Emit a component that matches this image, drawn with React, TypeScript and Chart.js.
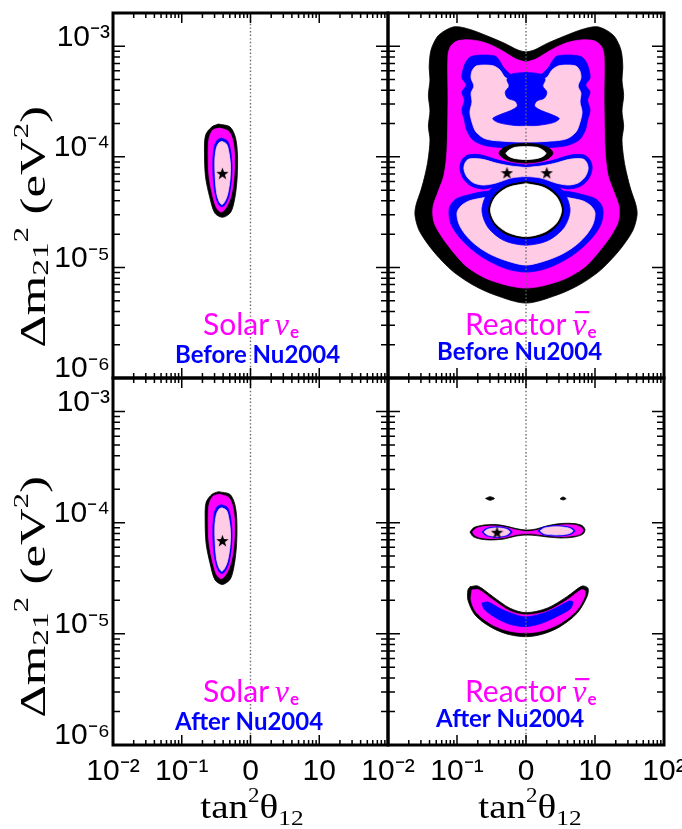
import React, { useEffect, useRef } from 'react';
import { Chart, registerables } from 'chart.js';

Chart.register(...registerables);

// ---------- axes ----------
const tanRange = [0.01, 100];
const dmRange = [1e-6, 2e-3];
const tanTicks = [0.01, 0.1, 1, 10, 100];
const tanTickLabelsLeft = ['10⁻²', '10⁻¹', '0', '10', ''];
const tanTickLabelsRight = ['10⁻²', '10⁻¹', '0', '10', '10²'];
const dmTicks = [1e-6, 1e-5, 1e-4, 1e-3];
const dmTickLabels = ['10⁻⁶', '10⁻⁵', '10⁻⁴', '10⁻³'];
const maximalMixing = 1;

// ---------- texts ----------
const solarLabel = 'Solar';
const reactorLabel = 'Reactor';
const beforeLabel = 'Before Nu2004';
const afterLabel = 'After Nu2004';

// ---------- colours ----------
const BLACK = '#000000';
const MAGENTA = '#ff00ff';
const BLUE = '#0000ff';
const PINK = '#ffcbe5';
const WHITE = '#ffffff';

// ---------- Solar, before Nu2004 : [tan2theta, dm2] ----------
const solarBeforeBlack = [[0.341,1.98e-4],[0.5,1.87e-4],[0.6,1.52e-4],[0.645,1.08e-4],[0.64,6.56e-5],[0.595,4.33e-5],[0.515,3.15e-5],[0.39,2.84e-5],[0.303,3.1e-5],[0.255,4.33e-5],[0.222,6.56e-5],[0.214,1.08e-4],[0.222,1.57e-4],[0.275,1.87e-4]];
const solarBeforeMagenta = [[0.353,1.82e-4],[0.477,1.71e-4],[0.55,1.42e-4],[0.585,1.04e-4],[0.575,6.56e-5],[0.525,4.52e-5],[0.447,3.52e-5],[0.377,3.17e-5],[0.322,3.44e-5],[0.28,4.52e-5],[0.25,6.56e-5],[0.242,1.04e-4],[0.25,1.48e-4],[0.285,1.75e-4]];
const solarBeforeBlue = [[0.377,1.48e-4],[0.462,1.39e-4],[0.511,1.15e-4],[0.537,8.43e-5],[0.528,6.17e-5],[0.485,4.42e-5],[0.432,3.74e-5],[0.384,3.52e-5],[0.341,3.74e-5],[0.308,4.52e-5],[0.288,6.17e-5],[0.284,9.35e-5],[0.298,1.25e-4],[0.33,1.42e-4]];
const solarBeforePink = [[0.384,1.38e-4],[0.447,1.31e-4],[0.485,1.1e-4],[0.511,8.43e-5],[0.502,6.17e-5],[0.462,4.52e-5],[0.417,3.9e-5],[0.384,3.7e-5],[0.353,3.9e-5],[0.324,4.61e-5],[0.308,6.17e-5],[0.303,9.35e-5],[0.319,1.2e-4],[0.347,1.34e-4]];
const solarBeforeBest = [[0.39, 7.1e-5]];

// ---------- Solar, after Nu2004 ----------
const solarAfterBlack = [[0.341,1.9e-4],[0.5,1.8e-4],[0.59,1.47e-4],[0.632,1.06e-4],[0.628,6.5e-5],[0.585,4.3e-5],[0.51,3.12e-5],[0.39,2.78e-5],[0.305,3.05e-5],[0.258,4.3e-5],[0.226,6.5e-5],[0.219,1.06e-4],[0.226,1.52e-4],[0.276,1.8e-4]];
const solarAfterMagenta = [[0.353,1.8e-4],[0.477,1.69e-4],[0.55,1.4e-4],[0.585,1.03e-4],[0.575,6.5e-5],[0.525,4.48e-5],[0.447,3.48e-5],[0.377,3.13e-5],[0.322,3.4e-5],[0.28,4.48e-5],[0.25,6.5e-5],[0.242,1.03e-4],[0.25,1.46e-4],[0.285,1.73e-4]];
const solarAfterBlue = [[0.377,1.45e-4],[0.462,1.37e-4],[0.511,1.13e-4],[0.537,8.3e-5],[0.528,6.1e-5],[0.485,4.38e-5],[0.432,3.7e-5],[0.384,3.48e-5],[0.341,3.7e-5],[0.308,4.48e-5],[0.288,6.1e-5],[0.284,9.2e-5],[0.298,1.23e-4],[0.33,1.4e-4]];
const solarAfterPink = [[0.384,1.36e-4],[0.447,1.29e-4],[0.485,1.08e-4],[0.511,8.3e-5],[0.502,6.1e-5],[0.462,4.48e-5],[0.417,3.86e-5],[0.384,3.66e-5],[0.353,3.86e-5],[0.324,4.56e-5],[0.308,6.1e-5],[0.303,9.2e-5],[0.319,1.18e-4],[0.347,1.32e-4]];
const solarAfterBest = [[0.39, 6.9e-5]];

// ---------- Reactor, before Nu2004 ----------
const reactorBeforeBlack = [[1,8.86e-4],[0.766,9.24e-4],[0.48,1.07e-3],[0.201,1.34e-3],[0.126,1.47e-3],[0.0905,1.5e-3],[0.0648,1.37e-3],[0.0513,1.21e-3],[0.042,9.24e-4],[0.0395,6.5e-4],[0.0406,4.95e-4],[0.0385,3.6e-4],[0.0406,2.6e-4],[0.0385,1.9e-4],[0.0406,1.42e-4],[0.038,9.35e-5],[0.0344,6.84e-5],[0.0301,5.01e-5],[0.0255,3.67e-5],[0.0246,2.98e-5],[0.0281,2.18e-5],[0.0406,1.53e-5],[0.0627,1.12e-5],[0.0935,8.9e-6],[0.171,6.93e-6],[0.356,5.63e-6],[1,4.76e-6],[2.81,5.63e-6],[5.85,6.93e-6],[10.7,8.9e-6],[15.9,1.12e-5],[24.6,1.53e-5],[35.6,2.18e-5],[40.7,2.98e-5],[39.2,3.67e-5],[33.2,5.01e-5],[29.1,6.84e-5],[26.3,9.35e-5],[24.6,1.42e-4],[26.0,1.9e-4],[24.6,2.6e-4],[26.0,3.6e-4],[24.6,4.95e-4],[25.3,6.5e-4],[23.8,9.24e-4],[19.5,1.21e-3],[15.4,1.37e-3],[11.0,1.5e-3],[7.94,1.47e-3],[4.98,1.34e-3],[2.08,1.07e-3],[1.31,9.24e-4]];
const reactorBeforeMagenta = [[1,7.19e-4],[0.717,7.66e-4],[0.434,9.24e-4],[0.263,1.07e-3],[0.16,1.14e-3],[0.103,1.12e-3],[0.0818,1.01e-3],[0.0741,8.32e-4],[0.0741,3.26e-4],[0.0716,1.15e-4],[0.0648,6.84e-5],[0.0531,4.81e-5],[0.0449,3.52e-5],[0.0464,2.57e-5],[0.0606,1.88e-5],[0.0905,1.35e-5],[0.14,1.01e-5],[0.301,7.69e-6],[1,6.51e-6],[3.32,7.69e-6],[7.14,1.01e-5],[11.0,1.35e-5],[16.5,1.88e-5],[21.6,2.57e-5],[22.3,3.52e-5],[18.8,4.81e-5],[15.4,6.84e-5],[14.0,1.15e-4],[13.5,3.26e-4],[13.5,8.32e-4],[12.2,1.01e-3],[9.71,1.12e-3],[6.25,1.14e-3],[3.8,1.07e-3],[2.3,9.24e-4],[1.39,7.66e-4]];
const reactorBeforeBlueUpper = [[1,5.38e-4],[0.627,5.49e-4],[0.48,6.35e-4],[0.406,7.5e-4],[0.356,8.15e-4],[0.223,8.32e-4],[0.155,7.98e-4],[0.132,7.05e-4],[0.122,6.09e-4],[0.118,5.16e-4],[0.136,4.46e-4],[0.118,3.86e-4],[0.128,3.26e-4],[0.118,2.65e-4],[0.128,2.15e-4],[0.138,1.75e-4],[0.17,1.42e-4],[0.263,1.26e-4],[0.513,1.21e-4],[1,1.21e-4],[1.95,1.21e-4],[3.8,1.26e-4],[5.88,1.42e-4],[7.25,1.75e-4],[7.81,2.15e-4],[8.47,2.65e-4],[7.81,3.26e-4],[8.47,3.86e-4],[7.35,4.46e-4],[8.47,5.16e-4],[8.2,6.09e-4],[7.58,7.05e-4],[6.45,7.98e-4],[4.49,8.32e-4],[2.81,8.15e-4],[2.46,7.5e-4],[2.08,6.35e-4],[1.59,5.49e-4]];
const reactorBeforePinkUpper = [[1,4.75e-4],[0.513,5.16e-4],[0.42,6.09e-4],[0.344,6.62e-4],[0.263,6.76e-4],[0.189,6.62e-4],[0.165,5.96e-4],[0.16,5.16e-4],[0.176,4.37e-4],[0.16,3.78e-4],[0.165,3.13e-4],[0.154,2.54e-4],[0.165,2.06e-4],[0.189,1.68e-4],[0.263,1.45e-4],[0.513,1.38e-4],[1,1.36e-4],[1.95,1.38e-4],[3.8,1.45e-4],[5.3,1.68e-4],[6.06,2.06e-4],[6.49,2.54e-4],[6.06,3.13e-4],[6.25,3.78e-4],[5.68,4.37e-4],[6.25,5.16e-4],[6.06,5.96e-4],[5.3,6.62e-4],[3.8,6.76e-4],[2.91,6.62e-4],[2.38,6.09e-4],[1.95,5.16e-4]];
const reactorBeforeBlueCore = [[1,5.8e-4],[0.62,5.6e-4],[0.53,5.0e-4],[0.57,4.37e-4],[0.5,3.86e-4],[0.54,3.4e-4],[0.7,3.19e-4],[0.75,2.88e-4],[0.6,2.62e-4],[0.45,2.45e-4],[0.33,2.22e-4],[0.4,2.04e-4],[0.7,1.92e-4],[1,1.92e-4],[1.43,1.92e-4],[2.5,2.04e-4],[3.03,2.22e-4],[2.22,2.45e-4],[1.67,2.62e-4],[1.33,2.88e-4],[1.43,3.19e-4],[1.85,3.4e-4],[2.0,3.86e-4],[1.75,4.37e-4],[1.89,5.0e-4],[1.61,5.6e-4]];
const reactorBeforeBlueLower = [[1,5.45e-5],[0.368,5.01e-5],[0.223,4.81e-5],[0.144,4.52e-5],[0.0968,4.16e-5],[0.0792,3.59e-5],[0.0766,3.04e-5],[0.0818,2.47e-5],[0.1,2.0e-5],[0.144,1.56e-5],[0.223,1.26e-5],[0.38,1.05e-5],[0.607,9.47e-6],[1,9.08e-6],[1.65,9.47e-6],[2.63,1.05e-5],[4.49,1.26e-5],[6.94,1.56e-5],[10.0,2.0e-5],[12.2,2.47e-5],[13.1,3.04e-5],[12.6,3.59e-5],[10.3,4.16e-5],[6.94,4.52e-5],[4.49,4.81e-5],[2.72,5.01e-5]];
const reactorBeforePinkLower = [[1,5.01e-5],[0.23,4.24e-5],[0.149,3.99e-5],[0.114,3.59e-5],[0.1,3.11e-5],[0.107,2.47e-5],[0.131,2.0e-5],[0.182,1.62e-5],[0.281,1.35e-5],[0.48,1.17e-5],[1,1.05e-5],[2.08,1.17e-5],[3.56,1.35e-5],[5.49,1.62e-5],[7.63,2.0e-5],[9.35,2.47e-5],[10.0,3.11e-5],[8.77,3.59e-5],[6.71,3.99e-5],[4.35,4.24e-5]];
const reactorBeforeBlueRim = [[1,6.84e-5],[0.48,6.23e-5],[0.281,4.77e-5],[0.23,3.3e-5],[0.281,2.3e-5],[0.48,1.75e-5],[1,1.59e-5],[2.08,1.75e-5],[3.56,2.3e-5],[4.35,3.3e-5],[3.56,4.77e-5],[2.08,6.23e-5]];
const reactorBeforeLowerHoleEdge = [[1,5.98e-5],[0.53,5.5e-5],[0.344,4.47e-5],[0.286,3.3e-5],[0.344,2.45e-5],[0.53,1.98e-5],[1,1.83e-5],[1.89,1.98e-5],[2.91,2.45e-5],[3.5,3.3e-5],[2.91,4.47e-5],[1.89,5.5e-5]];
const reactorBeforeLowerHole = [[1,5.73e-5],[0.548,5.28e-5],[0.361,4.34e-5],[0.306,3.3e-5],[0.361,2.52e-5],[0.548,2.07e-5],[1,1.9e-5],[1.82,2.07e-5],[2.77,2.52e-5],[3.27,3.3e-5],[2.77,4.34e-5],[1.82,5.28e-5]];
const reactorBeforeBlueMiddle = [[1,8.43e-5],[0.607,8.79e-5],[0.393,9.35e-5],[0.223,1.04e-4],[0.144,1.04e-4],[0.118,9.35e-5],[0.11,7.92e-5],[0.122,6.43e-5],[0.16,5.45e-5],[0.246,5.12e-5],[0.368,5.45e-5],[0.607,6.04e-5],[1,6.3e-5],[1.65,6.04e-5],[2.72,5.45e-5],[4.07,5.12e-5],[6.25,5.45e-5],[8.2,6.43e-5],[9.09,7.92e-5],[8.47,9.35e-5],[6.94,1.04e-4],[4.49,1.04e-4],[2.54,9.35e-5],[1.65,8.79e-5]];
const reactorBeforePinkMiddle = [[1,8.0e-5],[0.607,8.26e-5],[0.393,8.7e-5],[0.223,9.55e-5],[0.149,9.55e-5],[0.131,8.79e-5],[0.126,7.76e-5],[0.14,6.56e-5],[0.176,5.8e-5],[0.246,5.56e-5],[0.368,5.8e-5],[0.607,6.43e-5],[1,6.63e-5],[1.65,6.43e-5],[2.72,5.8e-5],[4.07,5.56e-5],[5.68,5.8e-5],[7.14,6.56e-5],[7.94,7.76e-5],[7.63,8.79e-5],[6.71,9.55e-5],[4.49,9.55e-5],[2.54,8.7e-5],[1.65,8.26e-5]];
const reactorBeforeUpperHoleEdge = [[1,1.33e-4],[0.627,1.29e-4],[0.464,1.2e-4],[0.406,1.08e-4],[0.464,9.77e-5],[0.627,9.06e-5],[1,8.79e-5],[1.59,9.06e-5],[2.16,9.77e-5],[2.46,1.08e-4],[2.16,1.2e-4],[1.59,1.29e-4]];
const reactorBeforeUpperHole = [[1,1.24e-4],[0.693,1.22e-4],[0.567,1.15e-4],[0.513,1.08e-4],[0.567,1.01e-4],[0.693,9.66e-5],[1,9.45e-5],[1.44,9.66e-5],[1.76,1.01e-4],[1.95,1.08e-4],[1.76,1.15e-4],[1.44,1.22e-4]];
const reactorBeforeBest = [[0.53, 7.2e-5], [2.0, 7.2e-5]];

// ---------- Reactor, after Nu2004 ----------
const reactorAfterIslandLeft = [[0.259,1.65e-4],[0.301,1.71e-4],[0.349,1.65e-4],[0.301,1.59e-4]];
const reactorAfterIslandRight = [[3.11,1.64e-4],[3.44,1.7e-4],[3.8,1.64e-4],[3.44,1.6e-4]];
const reactorAfterBandBlack = [[0.154,8.23e-5],[0.176,9.03e-5],[0.246,9.51e-5],[0.368,9.61e-5],[0.513,9.31e-5],[0.717,8.85e-5],[1,8.58e-5],[1.4,8.76e-5],[2.08,9.41e-5],[3.21,9.82e-5],[4.96,9.82e-5],[6.49,9.41e-5],[7.16,8.67e-5],[6.7,7.89e-5],[4.96,7.42e-5],[3.21,7.28e-5],[2.08,7.42e-5],[1.4,7.65e-5],[1,7.73e-5],[0.717,7.57e-5],[0.48,7.13e-5],[0.311,6.98e-5],[0.216,7.13e-5],[0.171,7.5e-5]];
const reactorAfterBandMagenta = [[0.168,8.23e-5],[0.189,8.85e-5],[0.246,9.22e-5],[0.368,9.31e-5],[0.513,9.03e-5],[0.717,8.58e-5],[1,8.32e-5],[1.4,8.49e-5],[2.08,9.12e-5],[3.21,9.51e-5],[4.96,9.51e-5],[6.17,9.12e-5],[6.7,8.58e-5],[6.27,7.97e-5],[4.96,7.65e-5],[3.21,7.5e-5],[2.08,7.65e-5],[1.4,7.89e-5],[1,7.97e-5],[0.717,7.81e-5],[0.48,7.35e-5],[0.311,7.2e-5],[0.216,7.35e-5],[0.179,7.73e-5]];
const reactorAfterLobeLeftBlue = [[0.23,8.23e-5],[0.263,8.85e-5],[0.38,9.19e-5],[0.548,8.85e-5],[0.627,8.23e-5],[0.548,7.65e-5],[0.38,7.37e-5],[0.263,7.65e-5]];
const reactorAfterLobeLeftPink = [[0.246,8.23e-5],[0.277,8.72e-5],[0.38,8.97e-5],[0.521,8.72e-5],[0.586,8.23e-5],[0.521,7.76e-5],[0.38,7.54e-5],[0.277,7.76e-5]];
const reactorAfterLobeRightBlue = [[1.49,8.44e-5],[1.76,9.1e-5],[2.77,9.39e-5],[4.35,9.1e-5],[5.13,8.44e-5],[4.35,7.81e-5],[2.77,7.57e-5],[1.76,7.81e-5]];
const reactorAfterLobeRightPink = [[1.6,8.44e-5],[1.85,8.95e-5],[2.77,9.19e-5],[4.13,8.95e-5],[4.8,8.44e-5],[4.13,7.94e-5],[2.77,7.75e-5],[1.85,7.94e-5]];
const reactorAfterArcBlack = [[0.154,2.65e-5],[0.201,2.69e-5],[0.332,2.16e-5],[0.586,1.7e-5],[1,1.55e-5],[2.02,1.7e-5],[3.93,2.16e-5],[6.49,2.69e-5],[7.92,2.57e-5],[7.66,2.16e-5],[5.49,1.53e-5],[3.11,1.16e-5],[1.76,9.96e-6],[1,9.42e-6],[0.53,9.96e-6],[0.301,1.16e-5],[0.182,1.48e-5],[0.144,2.01e-5],[0.144,2.48e-5]];
const reactorAfterArcMagenta = [[0.165,2.48e-5],[0.208,2.48e-5],[0.332,2.01e-5],[0.586,1.6e-5],[1,1.48e-5],[2.02,1.6e-5],[3.93,2.01e-5],[6.27,2.48e-5],[7.16,2.43e-5],[6.94,2.1e-5],[5.3,1.6e-5],[3.11,1.24e-5],[1.76,1.07e-5],[1,1.02e-5],[0.53,1.07e-5],[0.301,1.24e-5],[0.189,1.57e-5],[0.16,2.01e-5]];
const reactorAfterArcBlue = [[0.23,1.89e-5],[0.281,1.93e-5],[0.434,1.67e-5],[0.717,1.48e-5],[1,1.42e-5],[1.65,1.51e-5],[2.72,1.71e-5],[4.2,1.97e-5],[4.8,1.93e-5],[4.35,1.67e-5],[2.72,1.42e-5],[1.65,1.24e-5],[1,1.16e-5],[0.607,1.21e-5],[0.368,1.39e-5],[0.246,1.67e-5]];
const reactorAfterBest = [[0.38, 8.2e-5]];

// ---------- panel setup (positions and styles only) ----------
const FIG_W = 682;
const FIG_H = 829;
const COL_X = [113, 388, 664];
const ROW_Y = [13, 378, 745];
const TICK_FONT = '"Liberation Sans", Arial, sans-serif';
const SERIF = '"Liberation Serif", "Times New Roman", serif';
const LABEL_FONT = 'Lato, "Noto Sans", sans-serif';

const panels = [
  {
    key: 'tl', col: 0, row: 0, yAxis: true, xAxis: false, xLabels: tanTickLabelsLeft,
    source: solarLabel, bar: false, era: beforeLabel, t1: [90, 322], t2: [62, 350], yTitleY: 227,
    best: solarBeforeBest,
    layers: [[solarBeforeBlack, BLACK], [solarBeforeMagenta, MAGENTA], [solarBeforeBlue, BLUE], [solarBeforePink, PINK]],
  },
  {
    key: 'tr', col: 1, row: 0, yAxis: false, xAxis: false, xLabels: tanTickLabelsRight,
    source: reactorLabel, bar: true, era: beforeLabel, t1: [77, 322], t2: [49, 347],
    best: reactorBeforeBest,
    layers: [
      [reactorBeforeBlack, BLACK], [reactorBeforeMagenta, MAGENTA], [reactorBeforeBlueUpper, BLUE],
      [reactorBeforePinkUpper, PINK], [reactorBeforeBlueCore, BLUE], [reactorBeforeBlueLower, BLUE],
      [reactorBeforePinkLower, PINK], [reactorBeforeBlueRim, BLUE], [reactorBeforeLowerHoleEdge, BLACK],
      [reactorBeforeLowerHole, WHITE], [reactorBeforeBlueMiddle, BLUE], [reactorBeforePinkMiddle, PINK],
      [reactorBeforeUpperHoleEdge, BLACK], [reactorBeforeUpperHole, WHITE],
    ],
  },
  {
    key: 'bl', col: 0, row: 1, yAxis: true, xAxis: true, xLabels: tanTickLabelsLeft,
    source: solarLabel, bar: false, era: afterLabel, t1: [90, 324], t2: [62, 352], yTitleY: 597, xTitleX: 252,
    best: solarAfterBest,
    layers: [[solarAfterBlack, BLACK], [solarAfterMagenta, MAGENTA], [solarAfterBlue, BLUE], [solarAfterPink, PINK]],
  },
  {
    key: 'br', col: 1, row: 1, yAxis: false, xAxis: true, xLabels: tanTickLabelsRight,
    source: reactorLabel, bar: true, era: afterLabel, t1: [77, 324], t2: [48, 349], xTitleX: 530,
    best: reactorAfterBest,
    layers: [
      [reactorAfterIslandLeft, BLACK], [reactorAfterIslandRight, BLACK],
      [reactorAfterBandBlack, BLACK], [reactorAfterBandMagenta, MAGENTA],
      [reactorAfterLobeLeftBlue, BLUE], [reactorAfterLobeLeftPink, PINK],
      [reactorAfterLobeRightBlue, BLUE], [reactorAfterLobeRightPink, PINK],
      [reactorAfterArcBlack, BLACK], [reactorAfterArcMagenta, MAGENTA], [reactorAfterArcBlue, BLUE],
    ],
  },
];

function minorTicks(majors: number[], top: number) {
  const out: number[] = [];
  for (const d of majors) for (let k = 2; k <= 9; k++) if (d * k < top) out.push(d * k);
  return out;
}
const tanMinor = minorTicks(tanTicks.slice(0, 4), tanRange[1]);
const dmMinor = minorTicks(dmTicks, dmRange[1]);

function makeStar(size: number) {
  const c = document.createElement('canvas');
  c.width = size; c.height = size;
  const g = c.getContext('2d')!;
  g.fillStyle = '#000';
  g.beginPath();
  for (let i = 0; i < 10; i++) {
    const r = i % 2 === 0 ? size / 2 : size * 0.2;
    const a = -Math.PI / 2 + (i * Math.PI) / 5;
    const x = size / 2 + r * Math.cos(a);
    const y = size / 2 + r * Math.sin(a) + size * 0.05;
    if (i === 0) g.moveTo(x, y); else g.lineTo(x, y);
  }
  g.closePath();
  g.fill();
  return c;
}

function drawPieces(ctx: CanvasRenderingContext2D, pieces: any[], sx: number) {
  let total = 0;
  for (const p of pieces) { ctx.font = `${p.s}px ${SERIF}`; p.w = ctx.measureText(p.t).width; total += p.w; }
  ctx.scale(sx, 1);
  let x = -total / 2;
  for (const p of pieces) { ctx.font = `${p.s}px ${SERIF}`; ctx.fillText(p.t, x, p.dy); x += p.w; }
}

function decor(p: any) {
  return {
    id: 'panelDecor',
    afterDraw(chart: any) {
      const { ctx, chartArea: a } = chart;
      const xs = chart.scales.x;
      const ys = chart.scales.y;
      ctx.save();
      // inward tick marks
      ctx.strokeStyle = '#000';
      ctx.lineWidth = 1.5;
      ctx.beginPath();
      const xt = (v: number, len: number) => {
        const px = xs.getPixelForValue(v);
        ctx.moveTo(px, a.bottom); ctx.lineTo(px, a.bottom - len);
        ctx.moveTo(px, a.top); ctx.lineTo(px, a.top + len);
      };
      const yt = (v: number, len: number) => {
        const py = ys.getPixelForValue(v);
        ctx.moveTo(a.left, py); ctx.lineTo(a.left + len, py);
        ctx.moveTo(a.right, py); ctx.lineTo(a.right - len, py);
      };
      tanTicks.forEach((v) => xt(v, 10));
      tanMinor.forEach((v) => xt(v, 5));
      dmTicks.forEach((v) => yt(v, 12));
      dmMinor.forEach((v) => yt(v, 7));
      ctx.stroke();
      ctx.lineWidth = 3;
      ctx.strokeRect(a.left, a.top, a.right - a.left, a.bottom - a.top);

      // panel labels
      ctx.textAlign = 'left';
      ctx.textBaseline = 'alphabetic';
      let x = a.left + p.t1[0];
      const y = a.top + p.t1[1];
      ctx.fillStyle = MAGENTA;
      ctx.font = `30px ${LABEL_FONT}`;
      const word = p.source + ' ';
      ctx.fillText(word, x, y);
      x += ctx.measureText(word).width - 2;
      ctx.font = `italic 32px ${SERIF}`;
      ctx.fillText('ν', x, y);
      const wn = ctx.measureText('ν').width;
      if (p.bar) ctx.fillRect(x + 3, y - 24, wn, 2.2);
      x += wn + 1;
      ctx.font = `bold 17px ${LABEL_FONT}`;
      ctx.fillText('e', x, y + 3);
      ctx.fillStyle = BLUE;
      ctx.font = `bold 24px ${LABEL_FONT}`;
      ctx.fillText(p.era, a.left + p.t2[0], a.top + p.t2[1]);

      // axis titles
      ctx.fillStyle = '#000';
      if (p.yAxis) {
        ctx.save();
        ctx.translate(45, p.yTitleY);
        ctx.rotate(-Math.PI / 2);
        drawPieces(ctx, [
          { t: 'Δm', s: 35, dy: 0 }, { t: '21', s: 23, dy: 3 }, { t: '2', s: 21, dy: -17 },
          { t: ' (eV', s: 35, dy: 0 }, { t: '2', s: 21, dy: -17 }, { t: ')', s: 35, dy: 0 },
        ], 1.45);
        ctx.restore();
      }
      if (p.xAxis) {
        ctx.save();
        ctx.translate(p.xTitleX, 818);
        drawPieces(ctx, [
          { t: 'tan', s: 34, dy: 0 }, { t: '2', s: 20, dy: -16 }, { t: 'θ', s: 34, dy: 0 }, { t: '12', s: 22, dy: 7 },
        ], 1.15);
        ctx.restore();
      }
      ctx.restore();
    },
  };
}

function buildChart(canvas: HTMLCanvasElement, p: any, star: HTMLCanvasElement) {
  const n = p.layers.length;
  const datasets: any[] = p.layers.map(([pts, color]: any, i: number) => {
    const data = pts.map(([x, y]: number[]) => ({ x, y }));
    data.push({ x: pts[0][0], y: pts[0][1] });
    return {
      type: 'line', data, indexAxis: 'y', fill: 'shape',
      backgroundColor: color, borderColor: color, borderWidth: 0.8,
      pointRadius: 0, pointHoverRadius: 0, tension: 0.3, order: 100 + n - i,
    };
  });
  datasets.push({
    type: 'line',
    data: [{ x: maximalMixing, y: dmRange[0] }, { x: maximalMixing, y: dmRange[1] }],
    borderColor: '#6a6a6a', borderWidth: 1.4, borderDash: [1.4, 2.2],
    pointRadius: 0, fill: false, order: 2,
  });
  datasets.push({
    type: 'scatter', data: p.best.map(([x, y]: number[]) => ({ x, y })),
    pointStyle: star, pointRadius: 6, order: 1,
  });

  const left = COL_X[p.col];
  const right = COL_X[p.col + 1];
  const top = ROW_Y[p.row];
  const bottom = ROW_Y[p.row + 1];
  const padding = {
    left: p.yAxis ? 0 : left,
    right: FIG_W - right,
    top,
    bottom: p.xAxis ? 0 : FIG_H - bottom,
  };

  return new Chart(canvas, {
    type: 'line',
    data: { datasets },
    options: {
      responsive: false,
      animation: false,
      events: [],
      layout: { padding },
      plugins: { legend: { display: false }, tooltip: { enabled: false } },
      scales: {
        x: {
          type: 'logarithmic', position: 'bottom', min: tanRange[0], max: tanRange[1],
          display: p.xAxis,
          grid: { display: false, drawTicks: false },
          border: { display: false },
          ticks: {
            autoSkip: false, maxRotation: 0, minRotation: 0, padding: 9, color: '#000',
            font: { family: TICK_FONT, size: 30 },
            callback: (_v: any, i: number) => p.xLabels[i],
          },
          afterBuildTicks: (s: any) => { s.ticks = tanTicks.map((v) => ({ value: v })); },
          afterFit: (s: any) => {
            if (p.xAxis) { s.height = FIG_H - bottom; }
            s.paddingLeft = 0; s.paddingRight = 0; s.paddingTop = 0; s.paddingBottom = 0;
          },
        },
        y: {
          type: 'logarithmic', position: 'left', min: dmRange[0], max: dmRange[1],
          display: p.yAxis,
          grid: { display: false, drawTicks: false },
          border: { display: false },
          ticks: {
            autoSkip: false, padding: 3, color: '#000', labelOffset: -9,
            font: { family: TICK_FONT, size: 30 },
            callback: (_v: any, i: number) => dmTickLabels[i],
          },
          afterBuildTicks: (s: any) => { s.ticks = dmTicks.map((v) => ({ value: v })); },
          afterFit: (s: any) => {
            if (p.yAxis) { s.width = left; }
            s.paddingLeft = 0; s.paddingRight = 0; s.paddingTop = 0; s.paddingBottom = 0;
          },
        },
      },
    } as any,
    plugins: [decor(p)],
  } as any);
}

export default function App() {
  const r0 = useRef<HTMLCanvasElement>(null);
  const r1 = useRef<HTMLCanvasElement>(null);
  const r2 = useRef<HTMLCanvasElement>(null);
  const r3 = useRef<HTMLCanvasElement>(null);
  const refs = [r0, r1, r2, r3];

  useEffect(() => {
    const star = makeStar(13);
    const charts = panels.map((p, i) => buildChart(refs[i].current!, p, star));
    return () => charts.forEach((c) => c.destroy());
  }, []);

  return (
    <div style={{ position: 'absolute', left: 0, top: 0, width: FIG_W, height: FIG_H, background: '#fff' }}>
      {panels.map((p, i) => (
        <canvas
          key={p.key}
          ref={refs[i]}
          width={FIG_W}
          height={FIG_H}
          style={{ position: 'absolute', left: 0, top: 0, width: FIG_W, height: FIG_H }}
        />
      ))}
    </div>
  );
}
